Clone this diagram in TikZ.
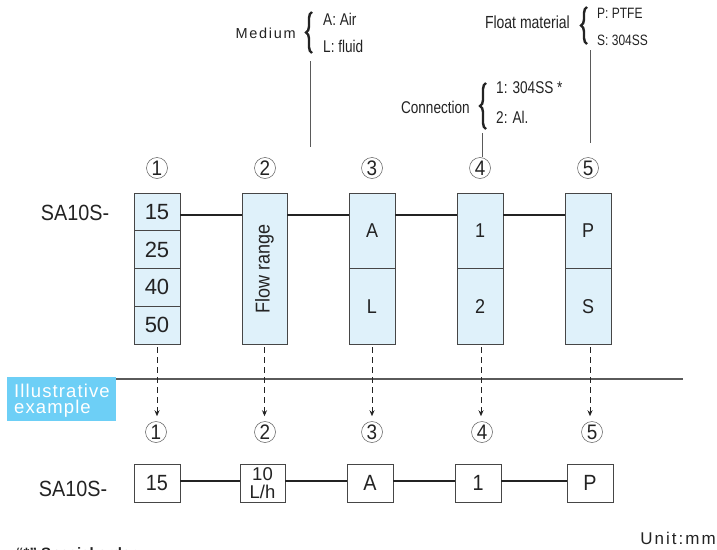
\documentclass[tikz,border=0pt]{standalone}
\usepackage{fontspec}
\setmainfont{Liberation Sans}
\newfontfamily\cond[FakeStretch=0.8]{Liberation Sans}
\newfontfamily\condb[FakeStretch=0.9]{Liberation Sans}
\newfontfamily\spaced[LetterSpace=12]{Liberation Sans}
\newfontfamily\spacedb[LetterSpace=6]{Liberation Sans}
\usetikzlibrary{decorations.pathreplacing,arrows.meta}
\definecolor{cellfill}{RGB}{223,241,250}
\definecolor{boxline}{RGB}{70,70,70}
\definecolor{ink}{RGB}{35,35,35}
\definecolor{illu}{RGB}{109,207,246}
\definecolor{rule}{RGB}{90,90,90}
\begin{document}
\begin{tikzpicture}[x=1pt,y=-1pt,
  cell/.style={draw=boxline, line width=0.9pt, fill=cellfill, minimum width=46pt, inner sep=0pt, text=ink, font=\condb\fontsize{20}{20}\selectfont},
  numcell/.style={cell, font=\fontsize{22}{22}\selectfont},
  obox/.style={draw=boxline, line width=0.9pt, fill=white, minimum width=46pt, minimum height=38pt, inner sep=0pt, text=ink, font=\condb\fontsize{22}{22}\selectfont},
  circ/.style={circle, draw=rule, line width=0.5pt, minimum size=21pt, inner sep=0pt, text=ink, font=\condb\fontsize{21}{21}\selectfont},
  link/.style={draw=ink, line width=2pt},
  darrow/.style={draw=ink, line width=0.9pt, dash pattern=on 6pt off 4pt, -{Stealth[length=6pt,width=5pt]}, shorten >=5pt, shorten <=3pt},
  lbl/.style={text=ink, inner sep=0pt, font=\cond\fontsize{17}{17}\selectfont},
  slbl/.style={text=ink, inner sep=0pt, font=\cond\fontsize{15}{15}\selectfont},
  brc/.style={draw=ink, line width=2.4pt, decorate, decoration={brace, amplitude=6pt}},
  lead/.style={draw=rule, line width=1pt},
  model/.style={text=ink, inner sep=0pt, font=\condb\fontsize{22}{22}\selectfont},
  illtext/.style={text=white, anchor=base west, inner sep=0pt, font=\spacedb\fontsize{18.5}{18.5}\selectfont}
]
\useasboundingbox (0,0) rectangle (717,549);
\coordinate (LT) at (0,214.5);
\coordinate (LB) at (0,481);

% top row
\node[model] (m1) at (75,213) {SA10S-};
\node[circ] (c1) at (157,168) {1};
\node[circ] (c2) at (265,168) {2};
\node[circ] (c3) at (372,168) {3};
\node[circ] (c4) at (480,168) {4};
\node[circ] (c5) at (588,168) {5};

\node[numcell, minimum height=37.75pt] (b1a) at (157,211.9) {15};
\node[numcell, minimum height=37.75pt] (b1b) at (157,249.6) {25};
\node[numcell, minimum height=37.75pt] (b1c) at (157,287.4) {40};
\node[numcell, minimum height=37.75pt] (b1d) at (157,325.1) {50};
\node[cell, minimum height=151pt, minimum width=45pt] (b2) at (264.5,268.5) {\rotatebox{90}{Flow range}};
\node[cell, minimum height=75.5pt] (b3a) at (372,230.75) {A};
\node[cell, minimum height=75.5pt] (b3b) at (372,306.25) {L};
\node[cell, minimum height=75.5pt] (b4a) at (480,230.75) {1};
\node[cell, minimum height=75.5pt] (b4b) at (480,306.25) {2};
\node[cell, minimum height=75.5pt] (b5a) at (588,230.75) {P};
\node[cell, minimum height=75.5pt] (b5b) at (588,306.25) {S};

\draw[link] (b1a.east |- LT) -- (b2.west |- LT);
\draw[link] (b2.east |- LT) -- (b3a.west |- LT);
\draw[link] (b3a.east |- LT) -- (b4a.west |- LT);
\draw[link] (b4a.east |- LT) -- (b5a.west |- LT);

% annotations
\node[text=ink, inner sep=0pt, anchor=east, font=\spaced\fontsize{14.5}{14.5}\selectfont] (med) at (296,33) {Medium};
\draw[brc] (312,53) -- (312,12);
\node[lbl, anchor=west] (medA) at (323,19) {A: Air};
\node[lbl, anchor=west] (medL) at (323,46) {L: fluid};
\coordinate (medT) at (310,61);
\coordinate (medB) at (310,147);
\draw[lead] (medT) -- (medB);

\node[lbl, anchor=east] (con) at (470,107) {Connection};
\draw[brc] (486,129) -- (486,83);
\node[lbl, anchor=west] (con1) at (496,88) {1: 304SS *};
\node[lbl, anchor=west] (con2) at (496,117) {2: Al.};
\coordinate (conT) at (482,133);
\draw[lead] (conT) -- (conT |- c4.north);

\node[lbl, anchor=east, font=\cond\fontsize{17.5}{17.5}\selectfont] (flt) at (570,22) {Float material};
\draw[brc] (587,44) -- (587,7);
\node[slbl, anchor=west] (fltP) at (597,13) {P: PTFE};
\node[slbl, anchor=west] (fltS) at (597,40) {S: 304SS};
\coordinate (fltT) at (590,50);
\coordinate (fltB) at (590,143);
\draw[lead] (fltT) -- (fltB);

% separator
\node[fill=illu, minimum width=109pt, minimum height=44pt, inner sep=0pt, anchor=north west] (ill) at (7,377) {};
\node[illtext] (illt1) at (14,397.5) {Illustrative};
\node[illtext] (illt2) at (14,413.5) {example};
\coordinate (sepE) at (683,379);
\draw[draw=rule, line width=1.5pt] (ill.east |- sepE) -- (sepE);

% bottom row
\node[circ] (d1) at (156,432) {1};
\node[circ] (d2) at (265,432) {2};
\node[circ] (d3) at (372,432) {3};
\node[circ] (d4) at (482,432) {4};
\node[circ] (d5) at (592,432) {5};

\draw[darrow] (b1d.south) -- (b1d.south |- d1.north);
\draw[darrow] (b2.south) -- (b2.south |- d2.north);
\draw[darrow] (b3b.south) -- (b3b.south |- d3.north);
\draw[darrow] ([xshift=1pt]b4b.south) -- ([xshift=1pt]b4b.south |- d4.north);
\draw[darrow] ([xshift=2pt]b5b.south) -- ([xshift=2pt]b5b.south |- d5.north);

\node[model] (m2) at (73,489) {SA10S-};
\node[obox] (e1) at (157,483) {15};
\node[obox, minimum width=45pt] (e2) at (262.5,483) {};
\node[text=ink, inner sep=0pt, font=\fontsize{18.5}{18.5}\selectfont] (e2a) at (262.5,474.5) {10};
\node[text=ink, inner sep=0pt, font=\fontsize{18.5}{18.5}\selectfont] (e2b) at (262.5,491.5) {L/h};
\node[obox] (e3) at (370,483) {A};
\node[obox] (e4) at (478,483) {1};
\node[obox] (e5) at (590,483) {P};
\draw[link] (e1.east |- LB) -- (e2.west |- LB);
\draw[link] (e2.east |- LB) -- (e3.west |- LB);
\draw[link] (e3.east |- LB) -- (e4.west |- LB);
\draw[link] (e4.east |- LB) -- (e5.west |- LB);

\node[text=ink, inner sep=0pt, anchor=east, font=\spaced\fontsize{17}{17}\selectfont] (unit) at (716,538) {Unit:mm};

\begin{scope}
\clip (0,0) rectangle (717,549);
\node[text=ink, inner sep=0pt, anchor=north west, font=\bfseries\fontsize{15}{15}\selectfont] (note) at (16,547) {“*” Special order};
\end{scope}
\end{tikzpicture}
\end{document}
